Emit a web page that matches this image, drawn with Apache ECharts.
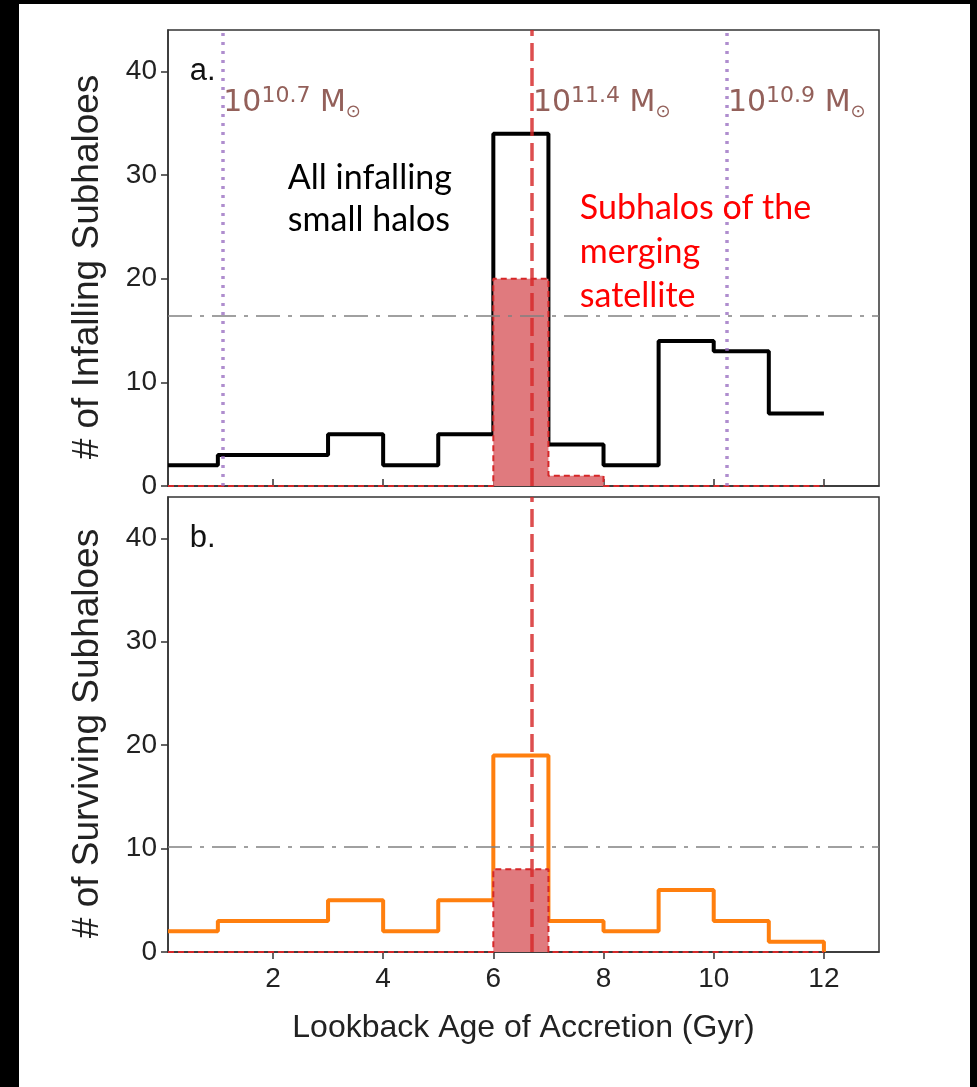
<!DOCTYPE html>
<html>
<head>
<meta charset="utf-8">
<script src="https://cdn.jsdelivr.net/npm/echarts@6/dist/echarts.min.js"></script>
<style>
  html, body { margin: 0; padding: 0; background: #000; }
  #sheet { position: absolute; left: 19px; top: 4px; width: 951px; height: 1083px; background: #fff; }
  #chart { position: absolute; left: 0; top: 0; width: 977px; height: 1087px; }
</style>
</head>
<body>
<div id="sheet"></div>
<div id="chart"></div>
<script>
// Histogram bins (lookback age of accretion, Gyr)
const binEdges = [0.095, 1, 2, 3, 4, 5, 6, 7, 8, 9, 10, 11, 12];

// Panel a: all infalling subhaloes, and those belonging to the merging satellite
const infallAll = [2, 3, 3, 5, 2, 5, 34, 4, 2, 14, 13, 7];
const infallSat = [0, 0, 0, 0, 0, 0, 20, 1, 0, 0, 0, 0];

// Panel b: surviving subhaloes
const surviveAll = [2, 3, 3, 5, 2, 5, 19, 3, 2, 6, 3, 1];
const surviveSat = [0, 0, 0, 0, 0, 0, 8, 0, 0, 0, 0, 0];

// Reference lines
const mergerAge = 6.7;
const massMarkers = [
  { age: 1.08, exp: '10.7' },
  { age: 10.24, exp: '10.9' }
];
const mergerExp = '11.4';
const infallThreshold = 16.4;
const surviveThreshold = 10.15;

// Axis ticks
const xTicks = [2, 4, 6, 8, 10, 12];
const yTicks = [0, 10, 20, 30, 40];
const xRange = [0.095, 13];
const yMax = 44;

const axisFont = 'Liberation Sans, Arial, sans-serif';
const noteFont = 'Lato, "Open Sans", sans-serif';
const spine = '#333';
const tabRed = '#d62728';
const satFill = '#e07a7e';
const massColor = '#93605a';

function stepData(edges, counts, closeEnd) {
  const pts = counts.map((c, i) => [edges[i], c]);
  pts.push([edges[edges.length - 1], counts[counts.length - 1]]);
  if (closeEnd) pts.push([edges[edges.length - 1], 0]);
  return pts;
}

function xAxisFor(gridIndex, withLabels) {
  return {
    type: 'value', gridIndex: gridIndex, min: xRange[0], max: xRange[1],
    splitLine: { show: false },
    axisLine: { show: true, onZero: false, lineStyle: { color: spine, width: 1.5 } },
    axisTick: { show: true, inside: !withLabels, length: 7, customValues: xTicks,
                lineStyle: { color: spine, width: 1.5 } },
    axisLabel: withLabels ? { show: true, customValues: xTicks, fontFamily: axisFont,
                              fontSize: 28, color: '#222', margin: 13 } : { show: false },
    name: withLabels ? 'Lookback Age of Accretion (Gyr)' : '',
    nameLocation: 'middle', nameGap: 60,
    nameTextStyle: { fontFamily: axisFont, fontSize: 32, color: '#222' }
  };
}

function yAxisFor(gridIndex, title) {
  return {
    type: 'value', gridIndex: gridIndex, min: 0, max: yMax, interval: 10,
    splitLine: { show: false },
    axisLine: { show: true, lineStyle: { color: spine, width: 1.5 } },
    axisTick: { show: true, length: 7, customValues: yTicks, lineStyle: { color: spine, width: 1.5 } },
    axisLabel: { customValues: yTicks, fontFamily: axisFont, fontSize: 28, color: '#222', margin: 11 },
    name: title, nameLocation: 'middle', nameGap: 62, nameRotate: 90,
    nameTextStyle: { fontFamily: axisFont, fontSize: 37, color: '#222', padding: [0, 18, 0, 0] }
  };
}

const mergerLine = {
  silent: true, symbol: 'none', label: { show: false },
  lineStyle: { color: 'rgba(214,39,40,0.82)', width: 3.5, type: [18, 7] },
  data: [{ xAxis: mergerAge }]
};

function thresholdLine(y) {
  return {
    silent: true, symbol: 'none', label: { show: false },
    lineStyle: { color: 'rgba(128,128,128,0.75)', width: 2, type: [24, 8, 4, 8] },
    data: [{ yAxis: y }]
  };
}

const option = {
  animation: false,
  backgroundColor: 'transparent',
  grid: [
    { left: 168, top: 30, width: 711, height: 456, show: true, borderColor: spine, borderWidth: 1.5, backgroundColor: 'transparent' },
    { left: 168, top: 497, width: 711, height: 455, show: true, borderColor: spine, borderWidth: 1.5, backgroundColor: 'transparent' }
  ],
  xAxis: [xAxisFor(0, false), xAxisFor(1, true)],
  yAxis: [yAxisFor(0, '# of Infalling Subhaloes'), yAxisFor(1, '# of Surviving Subhaloes')],
  series: [
    {
      type: 'line', xAxisIndex: 0, yAxisIndex: 0, step: 'end', showSymbol: false, z: 3,
      data: stepData(binEdges, infallAll, false),
      lineStyle: { color: '#000', width: 4 },
      markLine: {
        silent: true, symbol: 'none', label: { show: false },
        lineStyle: { color: 'rgba(148,103,189,0.75)', width: 3.5, type: [3, 6] },
        data: massMarkers.map(m => ({ xAxis: m.age }))
      }
    },
    {
      type: 'line', xAxisIndex: 0, yAxisIndex: 0, step: 'end', showSymbol: false, z: 4,
      data: stepData(binEdges, infallSat, true),
      lineStyle: { color: tabRed, width: 2, type: [6, 4] },
      areaStyle: { color: satFill, opacity: 1, origin: 'start' },
      markLine: mergerLine
    },
    {
      type: 'line', xAxisIndex: 0, yAxisIndex: 0, showSymbol: false, z: 5, data: [],
      markLine: thresholdLine(infallThreshold)
    },
    {
      type: 'line', xAxisIndex: 1, yAxisIndex: 1, step: 'end', showSymbol: false, z: 3,
      data: stepData(binEdges, surviveAll, true),
      lineStyle: { color: '#ff7f0e', width: 4 }
    },
    {
      type: 'line', xAxisIndex: 1, yAxisIndex: 1, step: 'end', showSymbol: false, z: 4,
      data: stepData(binEdges, surviveSat, true),
      lineStyle: { color: tabRed, width: 2, type: [6, 4] },
      areaStyle: { color: satFill, opacity: 1, origin: 'start' },
      markLine: mergerLine
    },
    {
      type: 'line', xAxisIndex: 1, yAxisIndex: 1, showSymbol: false, z: 5, data: [],
      markLine: thresholdLine(surviveThreshold)
    }
  ]
};

const chart = echarts.init(document.getElementById('chart'), null, { renderer: 'canvas' });
chart.setOption(option);

// Text annotations anchored in data coordinates
function px(grid, x, y) { return chart.convertToPixel({ gridIndex: grid }, [x, y]); }

const massRich = {
  n: { fontFamily: 'DejaVu Sans', fontSize: 30, fill: massColor },
  s: { fontFamily: 'DejaVu Sans', fontSize: 22, fill: massColor, verticalAlign: 'top' },
  o: { fontFamily: 'DejaVu Sans', fontSize: 18, fill: massColor, verticalAlign: 'bottom' }
};

function massLabel(age, exp) {
  const p = px(0, age, 37);
  return {
    type: 'text', x: p[0] + 1, y: p[1] + 1, z: 10,
    style: { text: '{n|10}{s|' + exp + '}{n| M}{o|⊙}', rich: massRich, fill: massColor,
             verticalAlign: 'middle', align: 'left', lineHeight: 36 }
  };
}

function note(grid, x, y, text, color, size, family, lh) {
  const p = px(grid, x, y);
  return {
    type: 'text', x: p[0], y: p[1], z: 10,
    style: { text: text, fill: color, fontSize: size, fontFamily: family,
             lineHeight: lh, align: 'left', verticalAlign: 'middle' }
  };
}

const graphics = [
  note(0, 0.49, 40, 'a.', '#111', 31, axisFont, 34),
  note(1, 0.49, 40, 'b.', '#111', 31, axisFont, 34),
  massLabel(massMarkers[0].age, massMarkers[0].exp),
  massLabel(mergerAge, mergerExp),
  massLabel(massMarkers[1].age, massMarkers[1].exp),
  note(0, 2.27, 27.7, 'All infalling\nsmall halos', '#000', 34, noteFont, 42),
  note(0, 7.57, 22.6, 'Subhalos of the\nmerging\nsatellite', '#ff0000', 34, noteFont, 44)
];
chart.setOption({ graphic: graphics });
</script>
</body>
</html>
